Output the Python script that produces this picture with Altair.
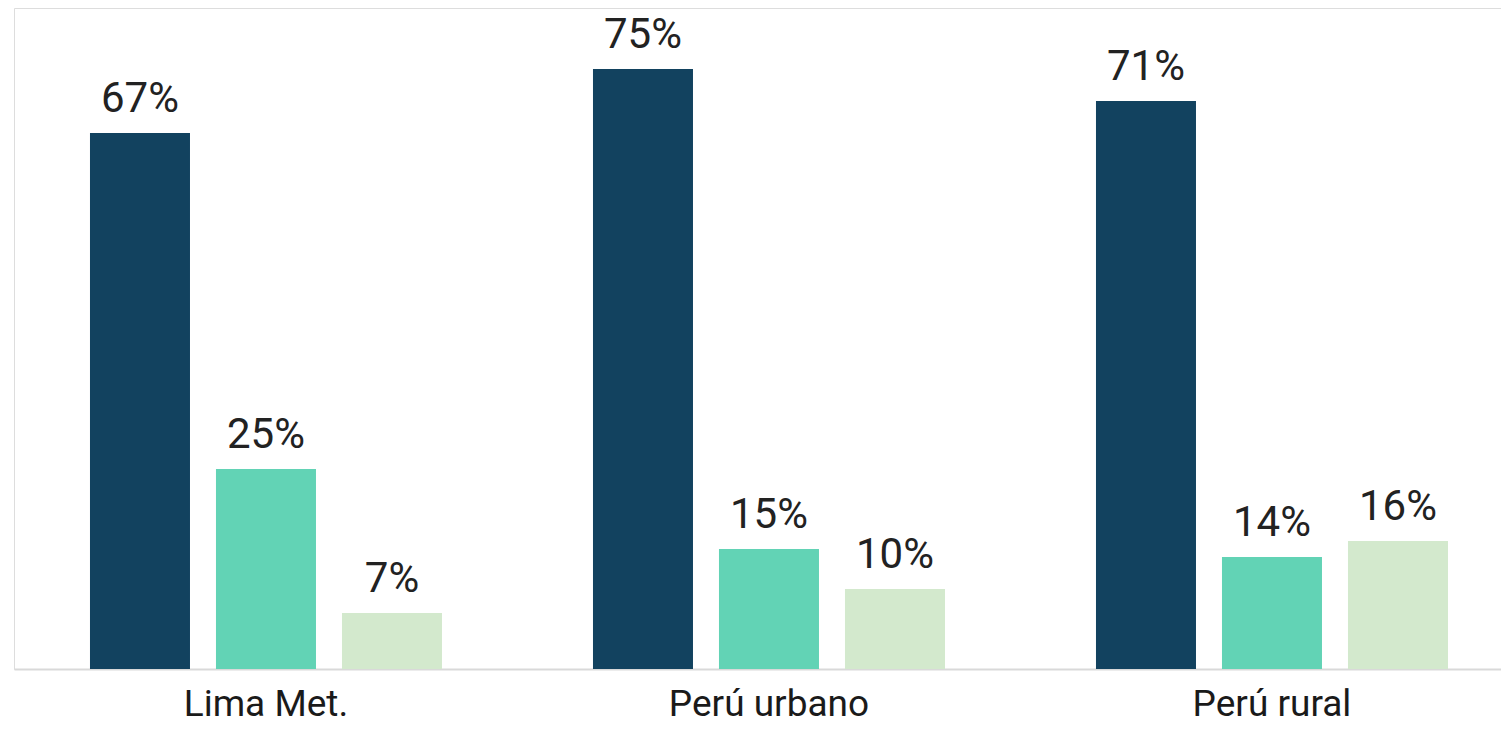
import altair as alt
import pandas as pd

categories = ["Lima Met.", "Perú urbano", "Perú rural"]
series = ["Serie 1", "Serie 2", "Serie 3"]
serie1 = [67, 75, 71]
serie2 = [25, 15, 14]
serie3 = [7, 10, 16]
colors = ["#12425F", "#62D3B5", "#D3E9CD"]

rows = []
for i, c in enumerate(categories):
    for s, vals in zip(series, [serie1, serie2, serie3]):
        rows.append({"cat": c, "serie": s, "value": vals[i]})
df = pd.DataFrame(rows)

FONT = "Roboto"

x = alt.X(
    "cat:N",
    sort=categories,
    scale=alt.Scale(paddingInner=0.3002, paddingOuter=0.12823, align=0.589),
    axis=alt.Axis(
        title=None,
        labelAngle=0,
        labelFontSize=37,
        labelFont=FONT,
        labelColor="#1a1a1a",
        labelPadding=17,
        labelLimit=0,
        ticks=False,
        domainColor="#d9d9d9",
        domainWidth=2,
        grid=False,
    ),
)
xo = alt.XOffset(
    "serie:N",
    sort=series,
    scale=alt.Scale(paddingInner=0.2063, paddingOuter=0),
)
y = alt.Y(
    "value:Q",
    scale=alt.Scale(domain=[0, 82.625], nice=False, zero=True),
    axis=None,
)

base = alt.Chart(df).encode(x=x, xOffset=xo, y=y)

bars = base.mark_bar().encode(
    color=alt.Color("serie:N", sort=series,
                    scale=alt.Scale(domain=series, range=colors), legend=None)
)

labels = base.mark_text(
    baseline="alphabetic", dy=-21, fontSize=42, font=FONT, color="#222222"
).transform_calculate(label="datum.value + '%'").encode(text="label:N")

chart = (
    alt.layer(bars, labels)
    .properties(
        width=1487,
        height=661,
        padding={"left": 6, "top": 0, "right": 0, "bottom": 55},
        autosize=alt.AutoSizeParams(type="none"),
    )
    .configure_view(strokeWidth=0, strokeOpacity=0)
    .configure(font=FONT)
)

chart.save("out.html", embed_options={"renderer": "svg", "actions": False})
